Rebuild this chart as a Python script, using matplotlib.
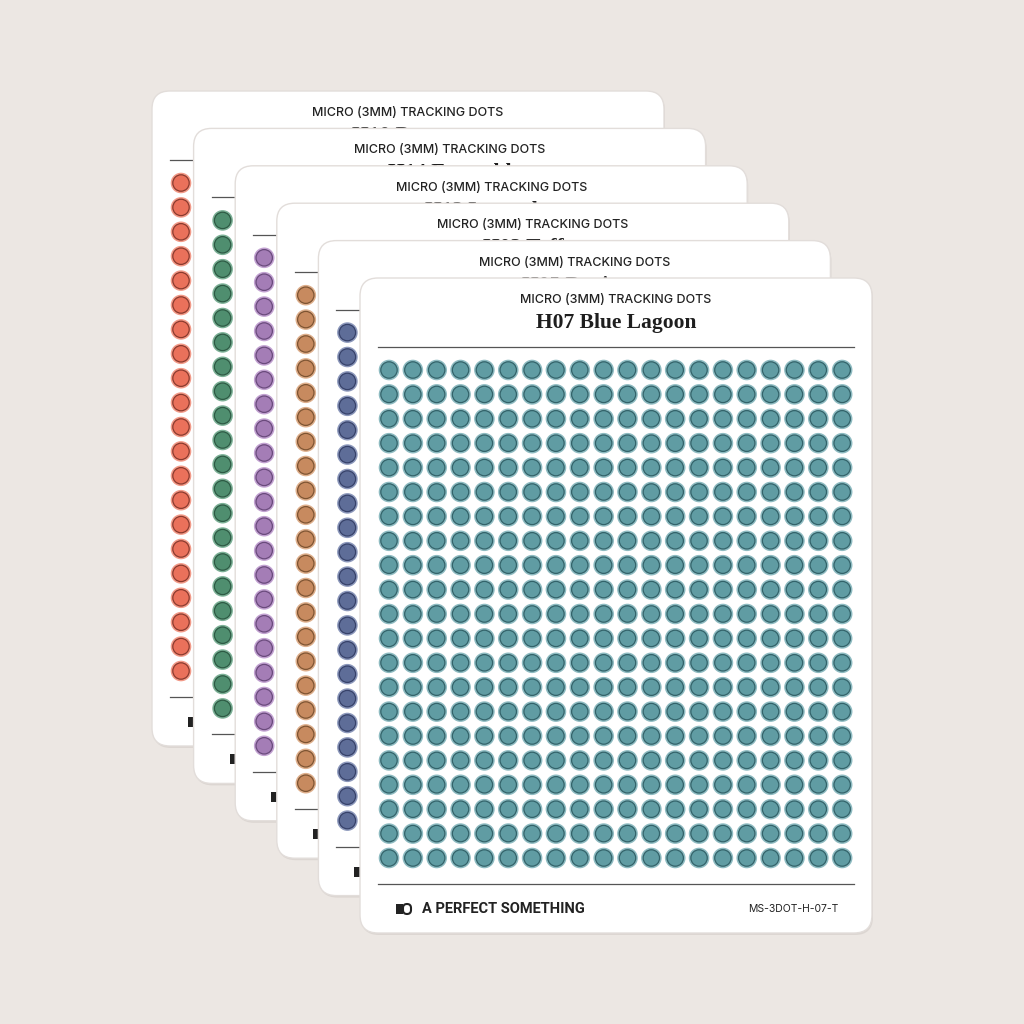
import matplotlib
matplotlib.use("Agg")
import matplotlib.pyplot as plt
import numpy as np
from matplotlib.patches import FancyBboxPatch, Circle, Rectangle
from matplotlib.collections import PatchCollection

# sheets, back to front
sheet_names = ["H10 Papaya", "H14 Emerald", "H12 Lavender", "H03 Toffee", "H05 Denim", "H07 Blue Lagoon"]
sheet_codes = ["MS-3DOT-H-10-T", "MS-3DOT-H-14-T", "MS-3DOT-H-12-T", "MS-3DOT-H-03-T", "MS-3DOT-H-05-T", "MS-3DOT-H-07-T"]
dot_colors = ["#EA715B", "#4F8E6F", "#A47DB6", "#C78A5F", "#5E6D98", "#609CA3"]
ring_colors = ["#F29A88", "#7CB096", "#C2A2D1", "#DEAF8C", "#8C98BB", "#8EBBC1"]
edge_colors = ["#8A3A2E", "#2D5A44", "#6A4A7C", "#7E5432", "#37426A", "#33636A"]
subtitle = "MICRO (3MM) TRACKING DOTS"
brand = "A PERFECT SOMETHING"
n_cols = 20
n_rows = 21

W, H = 512, 655
card_x0, card_y0 = 152, 91
dx, dy = 41.6, 37.4

fig = plt.figure(figsize=(10.24, 10.24), dpi=100)
fig.patch.set_facecolor("#ECE7E3")
ax = fig.add_axes([0, 0, 1, 1])
ax.set_xlim(0, 1024)
ax.set_ylim(1024, 0)
ax.axis("off")

for i, name in enumerate(sheet_names):
    x0 = card_x0 + dx * i
    y0 = card_y0 + dy * i
    z = 10 * (i + 1)
    # shadow + card
    ax.add_patch(FancyBboxPatch((x0 + 1, y0 + 2), W, H, boxstyle="round,pad=0,rounding_size=18",
                                fc="#D8D2CE", ec="none", zorder=z, alpha=0.8))
    ax.add_patch(FancyBboxPatch((x0, y0), W, H, boxstyle="round,pad=0,rounding_size=18",
                                fc="white", ec="#E2DDDA", lw=1, zorder=z + 1))
    cx = x0 + W / 2
    ax.text(cx, y0 + 22, subtitle, ha="center", va="center", fontsize=9, family="Inter",
            fontweight="medium", color="#222222", zorder=z + 2)
    ax.text(cx, y0 + 45, name, ha="center", va="center", fontsize=15.5, family="Liberation Serif",
            fontweight="bold", color="#1E1E1E", zorder=z + 2)
    ax.plot([x0 + 18, x0 + W - 18], [y0 + 69, y0 + 69], color="#555555", lw=0.9, zorder=z + 2)
    ax.plot([x0 + 18, x0 + W - 18], [y0 + 606, y0 + 606], color="#555555", lw=0.9, zorder=z + 2)

    xs = x0 + 29 + np.arange(n_cols) * 23.85
    ys = y0 + 92 + np.arange(n_rows) * 24.4
    outer, inner = [], []
    for yy in ys:
        for xx in xs:
            outer.append(Circle((xx, yy), 10.3))
            inner.append(Circle((xx, yy), 8.2))
    ax.add_collection(PatchCollection(outer, fc=ring_colors[i], ec="none", zorder=z + 2))
    ax.add_collection(PatchCollection(inner, fc=dot_colors[i], ec=edge_colors[i], lw=0.9, zorder=z + 3))

    # footer
    fy = y0 + 631
    ax.add_patch(Rectangle((x0 + 36, fy - 5), 7, 10, fc="#222222", ec="none", zorder=z + 4))
    ax.add_patch(FancyBboxPatch((x0 + 43, fy - 5), 8, 10, boxstyle="round,pad=0,rounding_size=4",
                                fc="white", ec="#222222", lw=1.5, zorder=z + 4))
    ax.text(x0 + 62, fy, brand, ha="left", va="center", fontsize=10.5, family="Roboto",
            fontweight="bold", color="#222222", zorder=z + 4)
    ax.text(x0 + W - 34, fy, sheet_codes[i], ha="right", va="center", fontsize=7.5, family="Inter",
            color="#222222", zorder=z + 4)

fig.savefig("out.png", dpi=100, facecolor=fig.get_facecolor())
